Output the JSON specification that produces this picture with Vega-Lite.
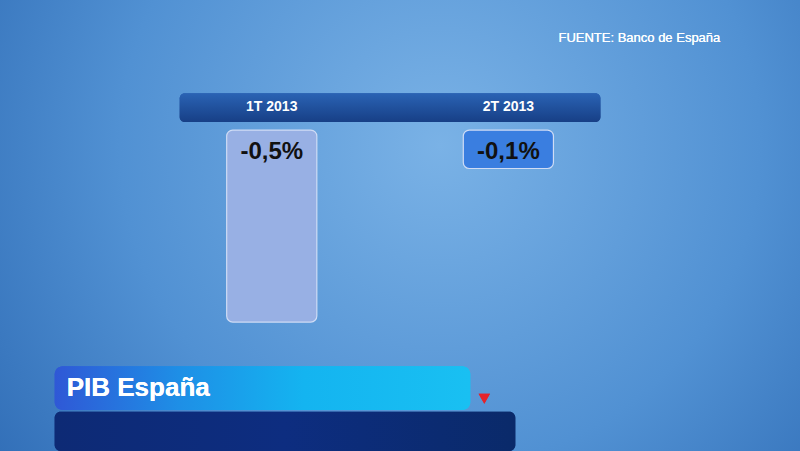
{
  "$schema": "https://vega.github.io/schema/vega-lite/v6.json",
  "width": 800,
  "height": 451,
  "padding": 0,
  "autosize": {"type": "fit", "contains": "padding"},
  "background": "#2a6cb5",
  "view": {
    "stroke": null,
    "fill": {
      "gradient": "radial",
      "x1": 0.55, "y1": 0.4, "r1": 0,
      "x2": 0.55, "y2": 0.4, "r2": 0.8,
      "stops": [
        {"offset": 0, "color": "#7ab2e6"},
        {"offset": 0.5, "color": "#5191d3"},
        {"offset": 1, "color": "#2460ac"}
      ]
    }
  },
  "data": {
    "values": [
      {"trimestre": "1T 2013", "valor": -0.5, "etiqueta": "-0,5%"},
      {"trimestre": "2T 2013", "valor": -0.1, "etiqueta": "-0,1%"}
    ]
  },
  "encoding": {
    "x": {
      "field": "trimestre",
      "type": "nominal",
      "axis": null,
      "sort": null,
      "scale": {"domain": ["1T 2013", "2T 2013"], "paddingInner": 0.619, "paddingOuter": 1.005, "align": 0.479}
    }
  },
  "layer": [
    {
      "mark": {"type": "rect", "cornerRadius": 5, "xOffset": -47, "x2Offset": 47,
        "fill": {"gradient": "linear", "x1": 0, "y1": 0, "x2": 0, "y2": 1,
          "stops": [{"offset": 0, "color": "#2a63b4"}, {"offset": 1, "color": "#173f86"}]}},
      "encoding": {
        "x": {"datum": "1T 2013", "bandPosition": 0, "scale": {"domain": ["1T 2013", "2T 2013"], "paddingInner": 0.619, "paddingOuter": 1.005, "align": 0.479}, "axis": null},
        "x2": {"datum": "2T 2013", "bandPosition": 1},
        "y": {"datum": 0.096, "type": "quantitative", "axis": null, "scale": {"domain": [-0.836, 0.339], "nice": false, "zero": false}},
        "y2": {"datum": 0.021}
      }
    },
    {
      "mark": {"type": "text", "color": "white", "font": "Liberation Sans", "fontWeight": "bold", "fontSize": 14, "align": "center", "baseline": "middle"},
      "encoding": {
        "text": {"field": "trimestre"},
        "y": {"datum": 0.059, "type": "quantitative"}
      }
    },
    {
      "mark": {"type": "bar", "cornerRadius": 6, "stroke": "#cfdcf5", "strokeWidth": 1.2},
      "encoding": {
        "y": {"field": "valor", "type": "quantitative"},
        "y2": {"datum": 0},
        "fill": {
          "field": "trimestre", "type": "nominal", "legend": null,
          "scale": {"domain": ["1T 2013", "2T 2013"], "range": ["#98b0e4", "#3a7ee0"]}
        }
      }
    },
    {
      "mark": {"type": "text", "color": "#111111", "font": "Liberation Sans", "fontWeight": "bold", "fontSize": 24, "align": "center", "baseline": "middle"},
      "encoding": {
        "text": {"field": "etiqueta"},
        "y": {"datum": -0.057, "type": "quantitative"}
      }
    },
    {
      "mark": {"type": "text", "color": "white", "font": "Liberation Sans", "fontSize": 13, "align": "left", "baseline": "middle", "xOffset": 5},
      "encoding": {
        "text": {"value": "FUENTE: Banco de España"},
        "x": {"datum": "2T 2013", "bandPosition": 1},
        "y": {"datum": 0.2396, "type": "quantitative"}
      }
    },
    {
      "mark": {"type": "rect", "cornerRadius": 8, "xOffset": -172, "x2Offset": 7,
        "fill": {"gradient": "linear", "x1": 0, "y1": 0, "x2": 1, "y2": 0,
          "stops": [{"offset": 0, "color": "#2f58d6"}, {"offset": 0.3, "color": "#1e8fe6"}, {"offset": 0.6, "color": "#14b4f0"}, {"offset": 1, "color": "#19c0f2"}]}},
      "encoding": {
        "x": {"datum": "1T 2013", "bandPosition": 0},
        "x2": {"datum": "2T 2013", "bandPosition": 0},
        "y": {"datum": -0.615, "type": "quantitative"},
        "y2": {"datum": -0.729}
      }
    },
    {
      "mark": {"type": "point", "shape": "triangle-down", "filled": true, "color": "#e3232c", "size": 130, "xOffset": 21, "opacity": 1},
      "encoding": {
        "x": {"datum": "2T 2013", "bandPosition": 0},
        "y": {"datum": -0.7, "type": "quantitative"}
      }
    },
    {
      "mark": {"type": "rect", "cornerRadius": 6, "xOffset": -172, "x2Offset": 52,
        "fill": {"gradient": "linear", "x1": 0, "y1": 0, "x2": 1, "y2": 0,
          "stops": [{"offset": 0, "color": "#0d2a75"}, {"offset": 0.5, "color": "#0d2d80"}, {"offset": 1, "color": "#0a2a6a"}]}},
      "encoding": {
        "x": {"datum": "1T 2013", "bandPosition": 0},
        "x2": {"datum": "2T 2013", "bandPosition": 0},
        "y": {"datum": -0.734, "type": "quantitative"},
        "y2": {"datum": -0.836}
      }
    },
    {
      "mark": {"type": "text", "color": "white", "font": "Liberation Sans", "fontWeight": "bold", "fontSize": 26, "align": "left", "baseline": "middle", "xOffset": -160},
      "encoding": {
        "text": {"value": "PIB España"},
        "x": {"datum": "1T 2013", "bandPosition": 0},
        "y": {"datum": -0.673, "type": "quantitative"}
      }
    }
  ]
}
